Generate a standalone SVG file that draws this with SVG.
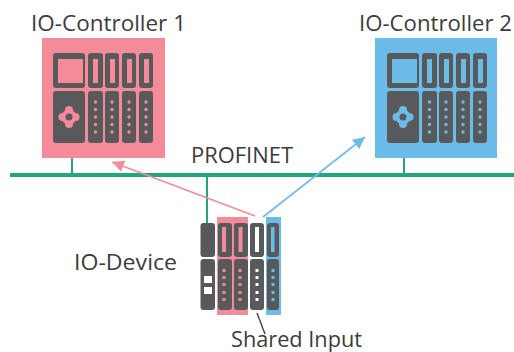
<svg xmlns="http://www.w3.org/2000/svg" width="514" height="352" viewBox="0 0 514 352">
<defs>
<style>
text{font-family:"Open Sans","Noto Sans",sans-serif;font-size:21.500px;fill:#3c3c3c}
.m{fill:#58595b}
.g{stroke:#22a77b;fill:none}
</style>
<marker id="ar" markerWidth="13" markerHeight="12" refX="12" refY="6" orient="auto" markerUnits="userSpaceOnUse"><path d="M0 0L12 6L0 12z" fill="#f58b98"/></marker>
<marker id="ab" markerWidth="13" markerHeight="12" refX="12" refY="6" orient="auto" markerUnits="userSpaceOnUse"><path d="M0 0L12 6L0 12z" fill="#6cbcea"/></marker>
<g id="ctl">
<rect class="m" x="53" y="53" width="32" height="35" rx="3"/>
<rect class="m" x="53" y="91" width="32" height="52" rx="3"/>
<rect class="m" x="88" y="53" width="15" height="35" rx="3"/>
<rect class="m" x="88" y="91" width="15" height="52" rx="3"/>
<rect class="m" x="105" y="53" width="14" height="35" rx="3"/>
<rect class="m" x="105" y="91" width="14" height="52" rx="3"/>
<rect class="m" x="122" y="53" width="14" height="35" rx="3"/>
<rect class="m" x="122" y="91" width="14" height="52" rx="3"/>
<rect class="m" x="139" y="53" width="14" height="35" rx="3"/>
<rect class="m" x="139" y="91" width="14" height="52" rx="3"/>
</g>
<g id="fea">
<rect x="58" y="59" width="25" height="24"/>
<rect x="93" y="59" width="5" height="24"/><rect x="110" y="59" width="5" height="24"/><rect x="127" y="59" width="5" height="24"/><rect x="144" y="59" width="5" height="24"/>
<circle cx="69" cy="117" r="7.500"/><circle cx="69" cy="110" r="4"/><circle cx="69" cy="124" r="4"/><circle cx="62.500" cy="117" r="4"/><circle cx="75.500" cy="117" r="4"/>
<g id="col"><circle cx="95.500" cy="102" r="1.700"/><circle cx="95.500" cy="109.500" r="1.700"/><circle cx="95.500" cy="117" r="1.700"/><circle cx="95.500" cy="124.500" r="1.700"/><circle cx="95.500" cy="132" r="1.700"/></g>
<use href="#col" x="16.500"/><use href="#col" x="33.500"/><use href="#col" x="50.500"/>
<circle cx="69" cy="117" r="3.500" class="m"/>
</g>
<g id="col2"><rect x="222.500" y="269" width="3" height="3"/><rect x="222.500" y="276" width="3" height="3"/><rect x="222.500" y="283" width="3" height="3"/><rect x="222.500" y="291" width="3" height="3"/><rect x="222.500" y="298" width="3" height="3"/></g>
</defs>
<g id="connectors">
<path class="g" d="M10 175H514" stroke-width="4"/>
<path class="g" d="M72 143V175M404 143V175M207 175V224" stroke-width="2"/>
<path d="M255 216L112 162" stroke="#f58b98" stroke-width="1.600" fill="none" marker-end="url(#ar)"/>
<path d="M263 217L365 137" stroke="#6cbcea" stroke-width="1.600" fill="none" marker-end="url(#ab)"/>
<path d="M257 313L265 334" stroke="#444" stroke-width="1.400" fill="none"/>
</g>
<g id="controller-1">
<rect x="42" y="38" width="123" height="120" fill="#f58b98"/>
<use href="#ctl"/>
<use href="#fea" fill="#f58b98"/>
<text x="31" y="31" textLength="155" lengthAdjust="spacingAndGlyphs">IO-Controller 1</text>
</g>
<g id="controller-2">
<rect x="375" y="38" width="122" height="120" fill="#6cbcea"/>
<use href="#ctl" x="334"/>
<use href="#fea" x="334" fill="#6cbcea"/>
<text x="359" y="31" textLength="153" lengthAdjust="spacingAndGlyphs">IO-Controller 2</text>
</g>
<g id="profinet"><text x="191" y="163" textLength="102" lengthAdjust="spacingAndGlyphs">PROFINET</text></g>
<g id="io-device">
<rect x="217" y="217" width="31" height="98" fill="#f58b98"/>
<rect x="266" y="217" width="15" height="98" fill="#6cbcea"/>
<rect class="m" x="200.500" y="223" width="14.500" height="34" rx="3"/><rect class="m" x="200.500" y="259" width="14.500" height="51" rx="3"/>
<rect class="m" x="218" y="223" width="14" height="34" rx="3"/><rect class="m" x="218" y="259" width="14" height="51" rx="3"/>
<rect class="m" x="234" y="223" width="14" height="34" rx="3"/><rect class="m" x="234" y="259" width="14" height="51" rx="3"/>
<rect class="m" x="250" y="223" width="14" height="34" rx="3"/><rect class="m" x="250" y="259" width="14" height="51" rx="3"/>
<rect class="m" x="267" y="223" width="12" height="34" rx="3"/><rect class="m" x="267" y="259" width="12" height="51" rx="3"/>
<rect x="222" y="227" width="4" height="25" fill="#f58b98"/><rect x="238.500" y="227" width="4" height="25" fill="#f58b98"/>
<rect x="255" y="227" width="4" height="25" fill="#fff"/><rect x="271" y="227" width="3.500" height="25" fill="#6cbcea"/>
<rect x="204" y="276" width="8" height="7" fill="#fff"/><rect x="204" y="287" width="8" height="7" fill="#fff"/>
<use href="#col2" fill="#f58b98"/><use href="#col2" x="16" fill="#f58b98"/>
<use href="#col2" x="33" fill="#fff"/><use href="#col2" x="49" fill="#6cbcea"/>
<text x="74" y="270" textLength="103" lengthAdjust="spacingAndGlyphs">IO-Device</text>
<text x="231" y="346.500" textLength="131" lengthAdjust="spacingAndGlyphs">Shared Input</text>
</g>
</svg>
